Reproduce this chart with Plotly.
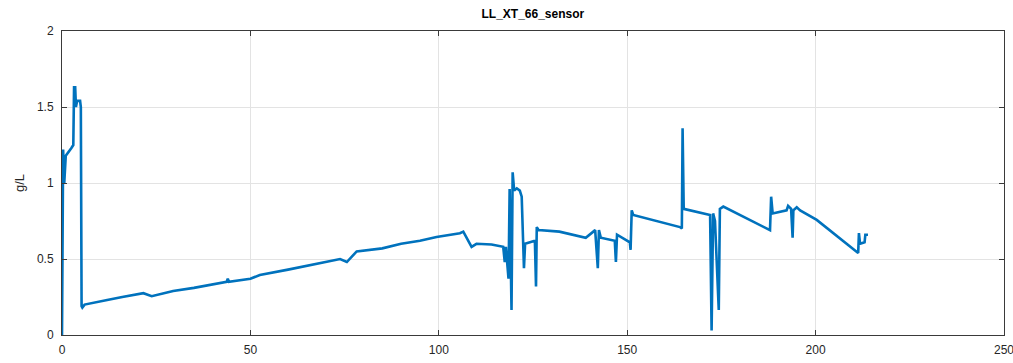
import plotly.graph_objects as go

title_text = "LL_XT_66_sensor"
y_label = "g/L"

x_vals = [0, 0.3, 0.6, 1.0, 2.5, 3.0, 3.2, 3.5, 3.7, 4.0, 4.8, 5.0, 5.2, 5.4, 6, 8.3, 12, 16, 21.6, 23.8,
          26, 29.5, 35, 43.7, 44, 44.3, 50, 52.5, 60, 68, 73.8, 75.6, 78.2, 85, 90, 95, 99.4, 105.6, 106.5,
          108.7, 110, 114, 117.1, 117.5, 117.8, 118.5, 118.8, 119.3, 119.6, 120, 120.7, 121.5, 122, 122.6,
          122.9, 125.5, 125.8, 126, 126.5, 132, 139, 141.5, 142.2, 142.5, 143, 146.7, 147, 147.3, 150.7,
          150.9, 151.2, 151.6, 164, 164.5, 164.7, 165, 172, 172.4, 172.8, 173.3, 174.3, 174.6, 175.5,
          187.9, 188.2, 188.6, 192.3, 192.7, 193.5, 193.9, 194.1, 195, 195.9, 200.3, 211.3, 211.5, 211.8,
          213.0, 213.2, 213.9]
y_vals = [0, 1.22, 1.0, 1.18, 1.23, 1.25, 1.63, 1.63, 1.50, 1.54, 1.54, 1.50, 0.19, 0.18, 0.20, 0.21,
          0.23, 0.25, 0.275, 0.255, 0.27, 0.29, 0.31, 0.35, 0.37, 0.35, 0.37, 0.395, 0.43, 0.47, 0.50,
          0.48, 0.55, 0.57, 0.60, 0.62, 0.645, 0.67, 0.68, 0.58, 0.60, 0.595, 0.58, 0.48, 0.58, 0.37,
          0.96, 0.165, 1.07, 0.95, 0.965, 0.95, 0.91, 0.44, 0.60, 0.62, 0.32, 0.71, 0.69, 0.68, 0.64,
          0.69, 0.44, 0.69, 0.64, 0.62, 0.48, 0.66, 0.61, 0.56, 0.82, 0.79, 0.71, 0.70, 1.36, 0.83,
          0.79, 0.03, 0.80, 0.75, 0.165, 0.83, 0.845, 0.69, 0.91, 0.80, 0.82, 0.85, 0.83, 0.64, 0.82,
          0.84, 0.82, 0.757, 0.54, 0.67, 0.60, 0.61, 0.66, 0.66]

x_ticks = [0, 50, 100, 150, 200, 250]
y_ticks = [0, 0.5, 1, 1.5, 2]
y_tick_text = ["0", "0.5", "1", "1.5", "2"]

fig = go.Figure()
fig.add_trace(go.Scatter(x=x_vals, y=y_vals, mode="lines",
                         line=dict(color="#0072BD", width=2.6), showlegend=False))

axis_common = dict(showline=True, linecolor="#3a3a3a", linewidth=1, mirror="ticks",
                   ticks="inside", ticklen=5, tickcolor="#3a3a3a",
                   showgrid=True, gridcolor="#e3e3e3", gridwidth=1, zeroline=False,
                   ticklabeloverflow="allow", automargin=False,
                   tickfont=dict(family="Liberation Sans, Arial", size=12, color="#262626"))

fig.update_xaxes(range=[0, 250], tickvals=x_ticks, ticktext=[str(t) for t in x_ticks],
                 ticklabelstandoff=4, **axis_common)
fig.update_yaxes(range=[0, 2], tickvals=y_ticks, ticktext=y_tick_text, ticklabelstandoff=5,
                 title=dict(text=y_label, font=dict(family="Liberation Sans, Arial", size=13, color="#262626"),
                            standoff=9),
                 **axis_common)

fig.update_layout(
    width=1013, height=363,
    margin=dict(l=62, r=9, t=31, b=28),
    paper_bgcolor="white", plot_bgcolor="white",
    title=dict(text="<b>" + title_text + "</b>", x=0.526, xanchor="center", y=1 - 14 / 363, yanchor="middle",
               font=dict(family="Liberation Sans, Arial", size=12, color="#000000")),
)

fig.write_html("out.html")
